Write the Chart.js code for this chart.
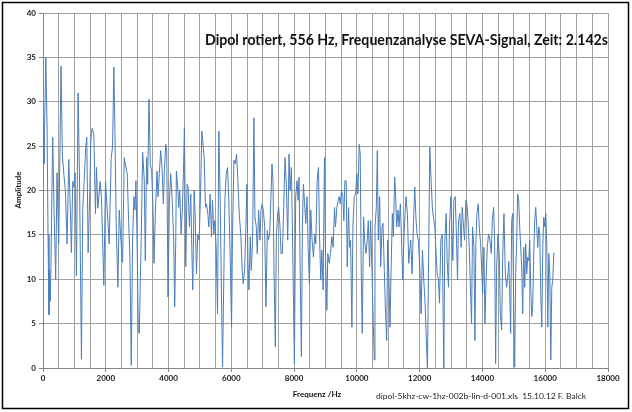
<!DOCTYPE html>
<html><head><meta charset="utf-8">
<script src="https://cdn.jsdelivr.net/npm/chart.js@4.4.0/dist/chart.umd.min.js"></script>
<style>html,body{margin:0;padding:0;background:#fff}#wrap{width:632px;height:412px}</style>
</head><body><div id="wrap"><canvas id="c" width="632" height="412"></canvas></div>
<script>
const frequencyHz = [0,30,90,130,160,190,210,230,255,309,351,404,447,500,575,617,660,713,767,820,862,905,948,980,1022,1065,1118,1161,1225,1267,1310,1363,1395,1438,1491,1523,1565,1619,1672,1704,1746,1821,1864,1938,1991,
2034,2109,2173,2215,2258,2290,2332,2386,2428,2482,2535,2588,2641,2684,2727,2769,2812,2854,2897,2929,2961,3003,3035,3067,3099,3131,3174,3227,3259,3302,3334,3376,3419,3461,3504,3536,3579,3632,3664,3706,3749,3792,3834,3866,3909,3941,3983,4026,4068,4111,4164,4196,
4229,4250,4292,4324,4356,4399,4442,4473,4505,4548,4591,4623,4665,4708,4740,4772,4814,4846,4889,4931,4974,5017,5059,5091,5134,5176,5208,5251,5283,5325,5368,5400,5443,5475,5517,5560,5602,5645,5677,5720,5762,5794,5837,5879,5922,5964,6007,6039,6082,6124,6167,6209,6252,
6305,6347,6379,6422,6464,6496,6528,6560,6603,6635,6677,6720,6752,6795,6826,6869,6912,6944,6986,7029,7061,7103,7146,7178,7221,7263,7295,7327,7359,7402,7434,7476,7508,7551,7583,7625,7668,7710,7753,7796,7838,7870,7913,7945,8009,8051,8094,8126,8158,8200,8232,8264,8296,8328,8371,8413,
8446,8488,8531,8573,8616,8659,8691,8733,8776,8808,8850,8882,8925,8967,8999,9042,9074,9117,9159,9202,9244,9287,9319,9362,9404,9436,9468,9511,9553,9585,9617,9660,9692,9734,9766,9798,9841,9873,9915,9958,10000,10032,10075,10107,10139,10171,10214,10246,10288,10331,10363,10405,10437,10480,10522,10554,
10576,10619,10651,10682,10725,10757,10800,10832,10874,10906,10949,10981,11023,11055,11087,11130,11162,11204,11236,11268,11311,11343,11385,11417,11460,11503,11534,11566,11609,11652,11684,11716,11758,11801,11843,11886,11918,11960,12003,12046,12088,12131,12173,12216,12248,12291,12323,12365,12408,12440,12482,12514,12557,12599,12631,12674,12717,
12769,12801,12844,12876,12918,12950,12993,13025,13057,13089,13131,13163,13206,13238,13280,13323,13355,13398,13430,13472,13504,13536,13579,13611,13653,13685,13728,13760,13792,13824,13866,13898,13941,13973,14005,14047,14079,14122,14154,14196,14239,14282,14313,14356,14388,14420,14452,14495,14537,14569,14612,14644,14686,14729,14771,14814,14840,
14868,14899,14931,14963,14995,15027,15059,15091,15123,15155,15187,15219,15251,15283,15315,15347,15379,15411,15443,15475,15507,15538,15570,15602,15634,15666,15698,15730,15762,15794,15826,15858,15890,15922,15954,15986,16018,16050,16082,16114,16146,16177,16209,16241,16273,16305];
const amplitude = [26,23,35,27,15,6,11,7.5,12,26,18,10,22,14,34,24,22,20,14,23.5,19,13,21,20.4,22,10.4,31,22,1,18,21,25,26,13,20,25.6,27,26.4,17.4,22.6,18,21,19,9.3,21,
18.5,14,23.7,24.9,33.9,27,16.3,9.1,17.8,14.4,11.9,23.7,22.6,21.9,16.6,12.5,0.3,14.4,19.3,17.8,21.1,12.9,4.3,3.9,9.5,14.8,24.3,21.1,12.1,23.7,20.7,30.3,23,22.2,18.1,11.8,17.4,22.2,19.3,21.9,24.5,22.6,18.5,22.2,25.2,24.5,8,18.5,21.9,19.3,14.4,6.9,
14.4,22.2,20.4,18.1,20,15.1,18.1,21.9,27.1,11.4,20.7,20.4,15.9,19.6,13.6,8.8,20,17.4,10.6,15.1,14.4,19.3,26.7,25.6,23.7,18.1,18.5,17.4,15.9,19.6,14.8,18.9,15.1,16.6,13.6,6.1,26.7,18.9,10.6,0.1,10.6,18.9,21.9,22.6,18.5,12.5,4.6,15.5,23.4,23,24.1,21.1,17.4,
14.8,11,9.5,11,15.9,20.7,12.1,8.8,14.8,11,14.4,28.2,17,15.9,12.9,17.8,14.4,17.8,18.5,17.4,15.9,6.9,15.5,14.4,15.1,19.3,23,21.1,11,2.4,14.8,17.4,18.1,15.9,12.9,12.9,18.1,23.7,20.7,14.4,24.1,20,22.6,15.9,0.5,19.3,21.1,18.9,21.5,9.1,1.3,15.9,20.7,18.9,16.3,19.3,
13.6,9.5,17.8,14.4,12.5,15.1,14,21.1,22.6,15.1,9.9,13.3,8.8,23.7,12.9,6.5,12.9,11.8,12.9,14.8,13.6,18.1,15.9,18.1,18.9,19.3,18.5,20,19.3,16.6,21.1,21.1,11.4,18.1,13.6,14.4,4.6,15.9,19.3,19.6,21.9,19.6,25.2,24.1,10.6,3.9,17,14.4,12.9,14.4,16.6,11.4,16.6,11,5,0.9,
15.9,18.1,24.5,14.4,19.3,11.4,15.9,16.3,11,6.9,3.1,14.4,9.9,4.6,10.6,17.4,14.8,21.5,19.3,15.9,17.8,15.9,18.5,15.1,9.9,15.1,17.4,19.3,17.4,11.8,13.3,14.4,10.6,15.9,20.4,16.6,15.1,14.4,11.4,6.1,13.3,9.9,7.3,2.7,0,14.4,24.9,21.1,17.8,17,15.9,13.6,10.6,9.9,7.3,14.4,15.1,
0,14.4,17.4,12.1,9.1,15.9,19.3,15.9,12.1,18.9,19.3,15.9,9.9,16.6,17.4,13.6,18.1,15.9,14.4,18.9,18.5,17,13.6,9.9,5,15.9,13.6,3.1,14.4,17.4,18.5,15.9,14,11.4,8.4,13.6,5,10.6,13.6,15.1,14.4,12.9,16.6,18.1,14.4,0.5,11.4,15.1,12.5,6.1,4.3,12.5,17.4,10.6,9.1,10.6,12,
8.4,3.9,16.6,17.4,6.9,0.1,10.6,14.4,19.6,18.9,15.9,13.6,11.4,6.1,13.6,9.1,14,10.6,12.5,12.1,14.4,9.1,5.8,6.9,12.9,16.6,18.1,15.9,13.6,15.9,15.1,8.4,4.6,13.6,17,15.9,17.4,13.6,4.6,12.9,10.6,0.9,9.1,9.9,12.9,12.9];
const yTickValues = [0,5,10,15,20,25,30,35,40];
const xLabelValues = [0,2000,4000,6000,8000,10000,12000,14000,16000,18000];
const titleText = 'Dipol rotiert, 556 Hz, Frequenzanalyse SEVA-Signal, Zeit: 2.142s';
const xAxisTitle = 'Frequenz /Hz';
const yAxisTitle = 'Amplitude';
const footerText = 'dipol-5khz-cw-1hz-002b-lin-d-001.xls  15.10.12 F. Balck';

const points = frequencyHz.map((f, i) => ({x: f, y: amplitude[i]}));

function fitText(ctx, text, x, y, font, width, align) {
  ctx.save();
  ctx.font = font;
  const w = ctx.measureText(text).width;
  const s = width / w;
  ctx.translate(x, y);
  ctx.scale(s, 1);
  ctx.textAlign = 'left';
  ctx.textBaseline = 'alphabetic';
  ctx.fillText(text, align === 'right' ? -w : 0, 0);
  ctx.restore();
}

const decor = {
  id: 'decor',
  beforeDraw(chart) {
    const ctx = chart.ctx;
    ctx.save();
    ctx.fillStyle = '#ffffff';
    ctx.fillRect(0, 0, chart.width, chart.height);
    ctx.restore();
  },
  afterDraw(chart) {
    const ctx = chart.ctx;
    ctx.save();
    ctx.fillStyle = '#111111';
    fitText(ctx, titleText, 608, 45, 'bold 15px Lato', 403, 'right');
    ctx.font = 'bold 8px Lato';
    ctx.textAlign = 'center';
    ctx.textBaseline = 'middle';
    ctx.fillText(xAxisTitle, 317, 394);
    ctx.save();
    ctx.translate(18, 190);
    ctx.rotate(-Math.PI / 2);
    ctx.fillText(yAxisTitle, 0, 0);
    ctx.restore();
    ctx.fillStyle = '#222222';
    fitText(ctx, footerText, 376, 399, '8px Lato', 210, 'left');
    ctx.strokeStyle = '#000000';
    ctx.lineWidth = 1.5;
    ctx.strokeRect(2.5, 2.5, 626, 406);
    ctx.restore();
  }
};

new Chart(document.getElementById('c'), {
  type: 'line',
  data: {
    datasets: [{
      data: points,
      borderColor: '#4a7ebb',
      borderWidth: 1,
      pointRadius: 0,
      tension: 0,
      fill: false
    }]
  },
  options: {
    responsive: false,
    animation: false,
    parsing: true,
    layout: {padding: {left: 0, right: 24, top: 13, bottom: 0}},
    plugins: {legend: {display: false}, tooltip: {enabled: false}, title: {display: false}},
    scales: {
      x: {
        type: 'linear', min: 0, max: 18000,
        afterFit(scale) { scale.height = 44; },
        afterBuildTicks(scale) {
          const t = [];
          for (let v = 0; v <= 18000; v += 500) t.push({value: v});
          scale.ticks = t;
        },
        ticks: {
          autoSkip: false, maxRotation: 0, padding: 2,
          color: '#1a1a1a', font: {family: 'Lato', size: 8, weight: 'bold'},
          callback: v => xLabelValues.includes(v) ? String(v) : ''
        },
        grid: {
          color: '#a0a0a0', lineWidth: 1, tickLength: 4,
          tickColor: c => (c.tick && xLabelValues.includes(c.tick.value)) ? '#868686' : 'rgba(0,0,0,0)'
        },
        border: {color: '#868686', width: 1}
      },
      y: {
        min: 0, max: 40,
        afterFit(scale) { scale.width = 43; },
        afterBuildTicks(scale) { scale.ticks = yTickValues.map(v => ({value: v})); },
        ticks: {
          padding: 3, color: '#1a1a1a', font: {family: 'Lato', size: 8, weight: 'bold'}
        },
        grid: {color: '#a0a0a0', lineWidth: 1, tickLength: 4, tickColor: '#868686'},
        border: {color: '#868686', width: 1}
      }
    }
  },
  plugins: [decor]
});
</script>
</body></html>
